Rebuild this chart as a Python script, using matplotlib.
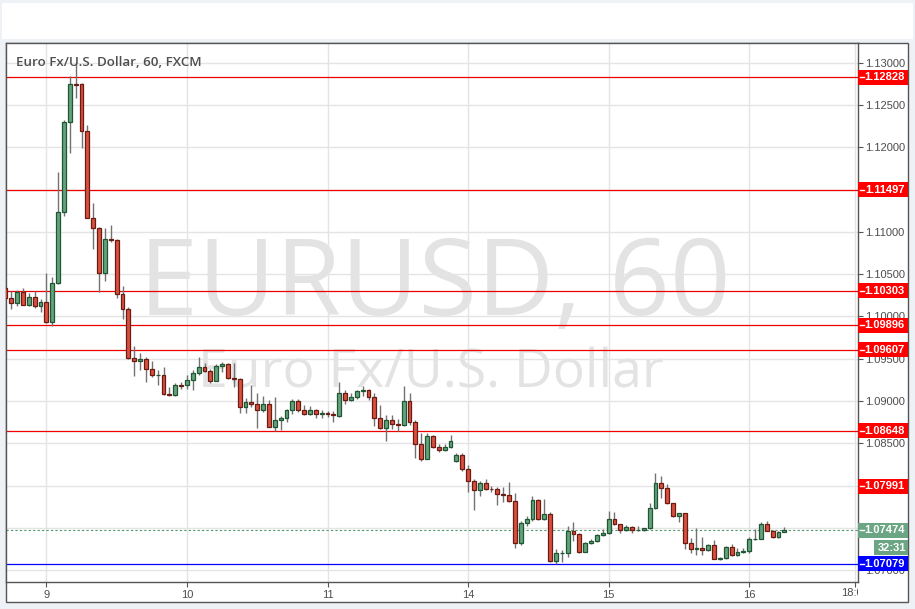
import numpy as np
import matplotlib
matplotlib.use("Agg")
import matplotlib.pyplot as plt
from matplotlib.patches import Rectangle
from matplotlib import transforms

# hourly EUR/USD bars, index 0 = day 9 00:00
bar_idx = list(range(-7, 127))
opens = [1.10340, 1.10215, 1.10156, 1.10286, 1.10132, 1.10227, 1.10121,
         1.10168, 1.09932, 1.10393, 1.11232, 1.12296, 1.12748, 1.12745, 1.12189, 1.11161, 1.11043,
         1.10511, 1.10913, 1.10904, 1.10262, 1.10085, 1.09506, 1.09471, 1.09494, 1.09376, 1.09305,
         1.09305, 1.09087, 1.09069, 1.09187,
         1.09187, 1.09246, 1.09329, 1.09400, 1.09350, 1.09241, 1.09415, 1.09435, 1.09277, 1.09265,
         1.08927, 1.08986, 1.08962, 1.08898, 1.08962, 1.08698, 1.08777, 1.08797, 1.08891, 1.08998,
         1.08891, 1.08844, 1.08891, 1.08844,
         1.08856, 1.08844, 1.08824, 1.09092, 1.09010, 1.09045, 1.09116, 1.09128, 1.09045, 1.08797,
         1.08679, 1.08773, 1.08726, 1.08714, 1.08998, 1.08750, 1.08489, 1.08319, 1.08588, 1.08454,
         1.08418, 1.08454, 1.08289, 1.08360,
         1.08201, 1.08052, 1.07946, 1.08028, 1.07958, 1.07955, 1.07898, 1.07887, 1.07816, 1.07319,
         1.07556, 1.07603, 1.07828, 1.07603, 1.07662, 1.07114, 1.07201, 1.07205, 1.07461, 1.07426,
         1.07222, 1.07319, 1.07346, 1.07414,
         1.07437, 1.07603, 1.07544, 1.07473, 1.07508, 1.07473, 1.07476, 1.07497, 1.07733, 1.08028,
         1.07969, 1.07792, 1.07638, 1.07674, 1.07319, 1.07248, 1.07260, 1.07236, 1.07296, 1.07137,
         1.07140, 1.07272, 1.07177, 1.07216,
         1.07228, 1.07370, 1.07373, 1.07547, 1.07465, 1.07390, 1.07453]
highs = [1.10340, 1.10301, 1.10313, 1.10333, 1.10274, 1.10301, 1.10203,
         1.10511, 1.10467, 1.11708, 1.12323, 1.12843, 1.12993, 1.12760, 1.12264, 1.11338, 1.11060,
         1.11043, 1.11082, 1.10910, 1.10361, 1.10116, 1.09651, 1.09565, 1.09518, 1.09471, 1.09371,
         1.09403, 1.09167, 1.09210, 1.09229,
         1.09305, 1.09368, 1.09521, 1.09450, 1.09376, 1.09435, 1.09462, 1.09450, 1.09454, 1.09270,
         1.09033, 1.09190, 1.09092, 1.09057, 1.09010, 1.09045, 1.08820, 1.08903, 1.09025, 1.09021,
         1.08954, 1.08939, 1.08910, 1.08895,
         1.08880, 1.08880, 1.09222, 1.09131, 1.09092, 1.09128, 1.09179, 1.09140, 1.09092, 1.08950,
         1.08836, 1.08832, 1.08785, 1.09179, 1.09099, 1.08777, 1.08620, 1.08627, 1.08600, 1.08489,
         1.08489, 1.08599, 1.08383, 1.08383,
         1.08245, 1.08076, 1.08059, 1.08079, 1.07993, 1.07988, 1.07985, 1.08044, 1.07910, 1.07586,
         1.07638, 1.07878, 1.07840, 1.07840, 1.07689, 1.07248, 1.07240, 1.07524, 1.07571, 1.07440,
         1.07330, 1.07370, 1.07429, 1.07485,
         1.07701, 1.07689, 1.07550, 1.07536, 1.07520, 1.07524, 1.07505, 1.07799, 1.08154, 1.08118,
         1.08020, 1.07800, 1.07680, 1.07680, 1.07382, 1.07497, 1.07390, 1.07311, 1.07355, 1.07160,
         1.07290, 1.07307, 1.07260, 1.07264,
         1.07390, 1.07488, 1.07567, 1.07583, 1.07475, 1.07460, 1.07508]
lows = [1.10215, 1.10085, 1.10128, 1.10132, 1.10120, 1.10097, 1.10050,
        1.09920, 1.09891, 1.10380, 1.11192, 1.11936, 1.12586, 1.11995, 1.11161, 1.10798, 1.10293,
        1.10423, 1.10880, 1.10222, 1.09974, 1.09500, 1.09300, 1.09371, 1.09229, 1.09289, 1.09194,
        1.09075, 1.09065, 1.09060, 1.09147,
        1.09147, 1.09131, 1.09309, 1.09345, 1.09218, 1.09235, 1.09348, 1.09261, 1.09170, 1.08863,
        1.08863, 1.08927, 1.08686, 1.08868, 1.08690, 1.08650, 1.08662, 1.08757, 1.08844, 1.08875,
        1.08836, 1.08840, 1.08797, 1.08804,
        1.08809, 1.08750, 1.08816, 1.08962, 1.09005, 1.09021, 1.09057, 1.09017, 1.08709, 1.08675,
        1.08532, 1.08667, 1.08650, 1.08705, 1.08718, 1.08324, 1.08296, 1.08310, 1.08440, 1.08402,
        1.08410, 1.08450, 1.08280, 1.08177,
        1.07929, 1.07716, 1.07882, 1.07950, 1.07930, 1.07776, 1.07804, 1.07810, 1.07267, 1.07300,
        1.07527, 1.07579, 1.07591, 1.07595, 1.07100, 1.07071, 1.07095, 1.07161, 1.07343, 1.07210,
        1.07215, 1.07310, 1.07340, 1.07405,
        1.07430, 1.07540, 1.07445, 1.07465, 1.07445, 1.07460, 1.07468, 1.07490, 1.07720, 1.07851,
        1.07785, 1.07630, 1.07567, 1.07255, 1.07201, 1.07181, 1.07177, 1.07230, 1.07130, 1.07125,
        1.07130, 1.07170, 1.07170, 1.07210,
        1.07201, 1.07360, 1.07365, 1.07460, 1.07385, 1.07385, 1.07450]
closes = [1.10215, 1.10156, 1.10286, 1.10132, 1.10227, 1.10121, 1.10168,
          1.09932, 1.10393, 1.11232, 1.12296, 1.12745, 1.12740, 1.12189, 1.11161, 1.11043, 1.10511,
          1.10913, 1.10900, 1.10262, 1.10085, 1.09506, 1.09471, 1.09494, 1.09376, 1.09305, 1.09308,
          1.09080, 1.09069, 1.09187, 1.09183,
          1.09246, 1.09329, 1.09400, 1.09350, 1.09241, 1.09415, 1.09439, 1.09277, 1.09265, 1.08927,
          1.08986, 1.08962, 1.08898, 1.08962, 1.08698, 1.08777, 1.08797, 1.08891, 1.08998, 1.08891,
          1.08844, 1.08891, 1.08844, 1.08856,
          1.08844, 1.08832, 1.09092, 1.09010, 1.09045, 1.09116, 1.09128, 1.09045, 1.08797, 1.08679,
          1.08773, 1.08726, 1.08714, 1.08998, 1.08750, 1.08489, 1.08319, 1.08588, 1.08454, 1.08418,
          1.08454, 1.08525, 1.08360, 1.08201,
          1.08052, 1.07946, 1.08028, 1.07958, 1.07955, 1.07898, 1.07887, 1.07816, 1.07319, 1.07556,
          1.07603, 1.07828, 1.07603, 1.07662, 1.07114, 1.07201, 1.07205, 1.07461, 1.07426, 1.07222,
          1.07319, 1.07346, 1.07414, 1.07437,
          1.07603, 1.07544, 1.07473, 1.07508, 1.07473, 1.07476, 1.07497, 1.07733, 1.08028, 1.07969,
          1.07792, 1.07638, 1.07674, 1.07319, 1.07248, 1.07260, 1.07236, 1.07296, 1.07137, 1.07140,
          1.07272, 1.07177, 1.07216, 1.07228,
          1.07370, 1.07373, 1.07547, 1.07465, 1.07390, 1.07453, 1.07474]

red_levels = [1.12828, 1.11497, 1.10303, 1.09896, 1.09607, 1.08648]
label_only_levels = [1.07991]
support_level = 1.07079
last_price = 1.07474
timer_text = "32:31"

price_ticks = [1.07, 1.075, 1.08, 1.085, 1.09, 1.095, 1.10, 1.105,
               1.11, 1.115, 1.12, 1.125, 1.13]
day_pos = [0, 24, 48, 72, 96, 120, 138]
day_labels = ["9", "10", "11", "14", "15", "16", "18:00"]

W, H = 915, 609
GREEN, GREEN_EDGE = "#65a37d", "#1f5633"
RED, RED_EDGE = "#d8503e", "#6a1b12"
AX_COL = "#555555"

fig = plt.figure(figsize=(W / 100, H / 100), dpi=100, facecolor="#eef2f6")

# white banner + chart frame (drawn below the axes)
fig.patches.append(Rectangle((1.7 / W, 1 - 39 / H), 911 / W, 36.3 / H,
                             transform=fig.transFigure, facecolor="white",
                             edgecolor="none", zorder=-10))
fig.patches.append(Rectangle((6 / W, 1 - 601.7 / H), 902 / W, 559 / H,
                             transform=fig.transFigure, facecolor="white",
                             edgecolor=AX_COL, lw=1, zorder=-10))

ax = fig.add_axes([6 / W, 1 - 582.3 / H, 851.7 / W, 539.6 / H])
ax.set_xlim(-6.9, 138.53)
ax.set_ylim(1.06858, 1.13236)
ax_w = 851.7
px_y = 8460.0  # pixels per price unit

x = np.array(bar_idx, dtype=float)
o = np.array(opens)
h = np.array(highs)
l = np.array(lows)
c = np.array(closes)
up = c >= o

ax.vlines(x, l, h, color="#727272", lw=1, zorder=2)
body = np.maximum(np.abs(c - o), 0.00002)
ax.bar(x[up], body[up], bottom=o[up], width=0.66, color=GREEN,
       edgecolor=GREEN_EDGE, lw=0.9, zorder=3)
ax.bar(x[~up], body[~up], bottom=c[~up], width=0.66, color=RED,
       edgecolor=RED_EDGE, lw=0.9, zorder=3)

for lv in red_levels:
    ax.axhline(lv, color="#ee0000", lw=0.9, zorder=1.6)
ax.axhline(support_level, color="#0000ff", lw=0.9, zorder=1.6)
ax.axhline(last_price, color="#4f9a6d", lw=0.8, ls=(0, (2, 2)), zorder=1.6)

# grid and axes styling
ax.set_axisbelow(True)
ax.grid(True, color="#e4e4e4", lw=1)
ax.set_yticks(price_ticks)
ax.set_yticklabels([f"{p:.5f}" for p in price_ticks])
ax.yaxis.tick_right()
ax.set_xticks(day_pos)
ax.set_xticklabels(day_labels[:-1] + [""])
ax.tick_params(axis="y", colors=AX_COL, labelsize=8, length=3.5, pad=1.6,
               labelcolor="#4d4d4d")
ax.tick_params(axis="x", colors=AX_COL, labelsize=8, length=3.5, pad=2,
               labelcolor="#4d4d4d")
for lbl in ax.get_xticklabels() + ax.get_yticklabels():
    lbl.set_family("Liberation Sans")
for sp in ax.spines.values():
    sp.set_color(AX_COL)
    sp.set_linewidth(1)

# clipped last time label
blend_xd = transforms.blended_transform_factory(ax.transData, ax.transAxes)
t = ax.text(day_pos[-1], -0.0198, day_labels[-1], transform=blend_xd,
            ha="center", va="center", fontsize=8, color="#4d4d4d",
            family="Liberation Sans")
t.set_clip_path(None)
t.set_clip_box(transforms.TransformedBbox(
    transforms.Bbox([[0, -0.2], [1.0, 1.0]]), ax.transAxes))
t.set_clip_on(True)

# price labels on the right axis
blend = transforms.blended_transform_factory(ax.transAxes, ax.transData)
boxes = [(lv, "#ff0000") for lv in red_levels + label_only_levels]
boxes += [(last_price, "#6ca584"), (support_level, "#0000ff")]
box_h = 15 / px_y
for lv, col in boxes:
    ax.add_patch(Rectangle((1.0 + 0.5 / ax_w, lv - box_h / 2), 50 / ax_w, box_h,
                           transform=blend, facecolor=col, edgecolor="none",
                           clip_on=False, zorder=5))
    ax.plot([1 + 2 / ax_w, 1 + 6 / ax_w], [lv, lv], color="white", lw=1,
            transform=blend, clip_on=False, zorder=6)
    ax.text(1.0315, lv, f"{lv:.5f}", transform=blend, ha="center", va="center",
            fontsize=8, fontweight="bold", color="white",
            family="Liberation Sans", clip_on=False, zorder=6)
timer_y = last_price - 17.5 / px_y
ax.add_patch(Rectangle((1.0 + 16.5 / ax_w, timer_y - box_h / 2), 34 / ax_w, box_h,
                       transform=blend, facecolor="#6ca584", edgecolor="none",
                       clip_on=False, zorder=5))
ax.text(1.0403, timer_y, timer_text, transform=blend, ha="center", va="center",
        fontsize=8, fontweight="bold", color="white", family="Liberation Sans",
        clip_on=False, zorder=6)

# watermark and title
ax.text(0.5037, 0.4954, "EURUSD, 60", transform=ax.transAxes, ha="center",
        va="baseline", fontsize=76.5, family="Open Sans", color="#e3e3e3",
        zorder=0.3)
ax.text(0.499, 0.3601, "Euro Fx/U.S. Dollar", transform=ax.transAxes,
        ha="center", va="baseline", fontsize=38.5, family="Open Sans",
        color="#e3e3e3", zorder=0.3)
ax.text(0.0114, 0.9577, "Euro Fx/U.S. Dollar, 60, FXCM", transform=ax.transAxes,
        ha="left", va="baseline", fontsize=9.6, fontweight="semibold",
        family="Open Sans", color="#4f4f4f", zorder=6)

fig.savefig("out.png", dpi=100, facecolor=fig.get_facecolor())
